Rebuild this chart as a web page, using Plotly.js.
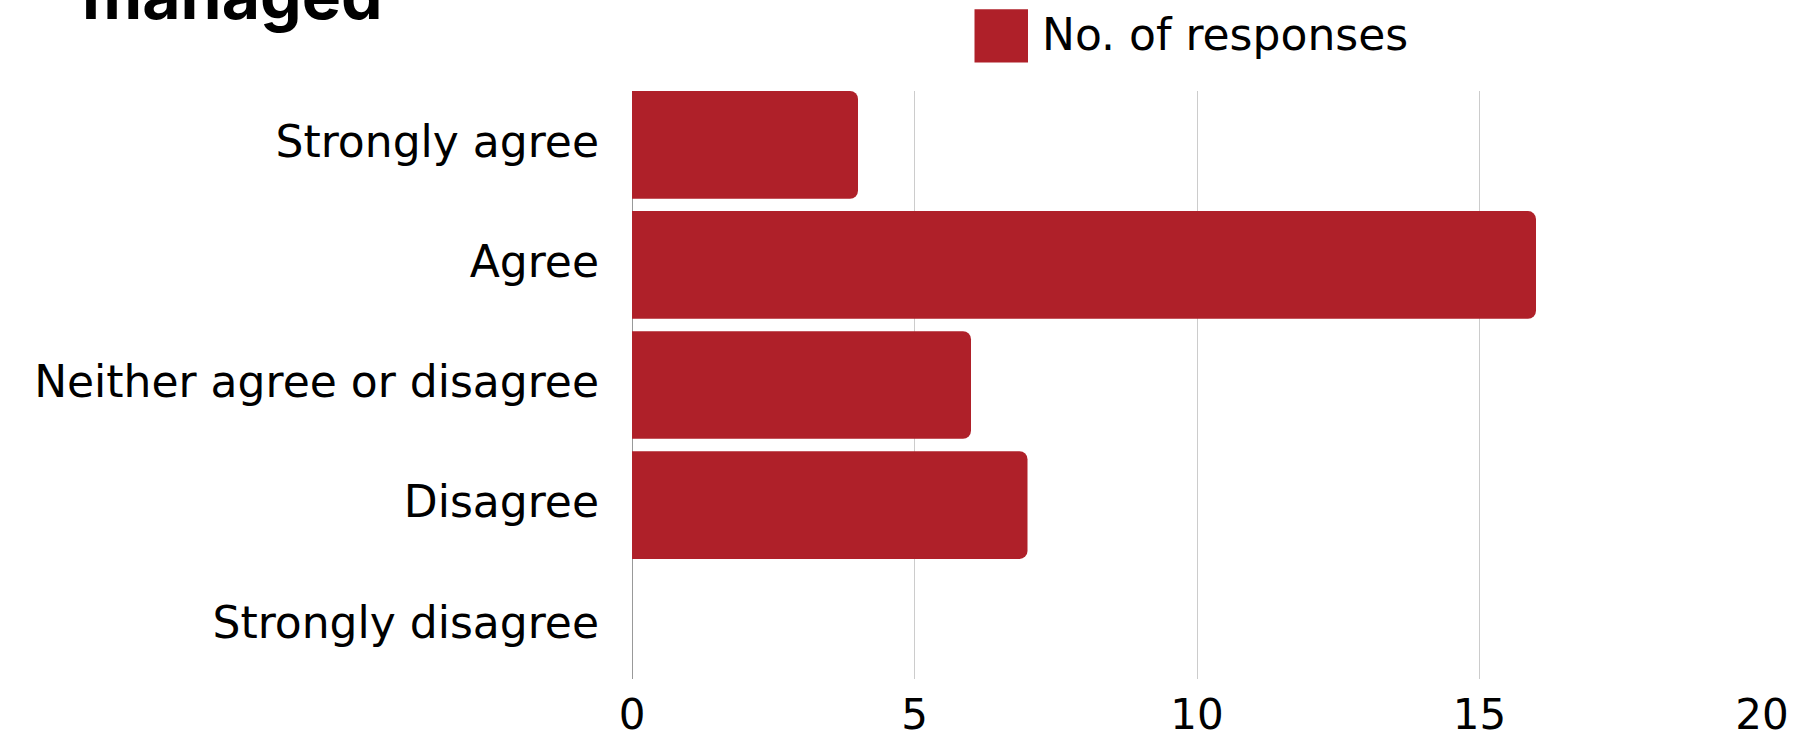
<!DOCTYPE html>
<html>
<head>
<meta charset="utf-8">
<script src="https://cdn.plot.ly/plotly-3.0.1.min.js"></script>
<style>
  html, body { margin: 0; padding: 0; background: #ffffff; }
  #chart { width: 1817px; height: 743px; }
</style>
</head>
<body>
<div id="chart"></div>
<script>
// ---- data ----
const categories = [
  "Strongly agree",
  "Agree",
  "Neither agree or disagree",
  "Disagree",
  "Strongly disagree"
];
const responses = [4, 16, 6, 7, 0];
const seriesName = "No. of responses";
const xTicks = [0, 5, 10, 15, 20];
const titleText = "managed";

const FONT = "'DejaVu Sans', sans-serif";
const TITLE_FONT = "Inter, 'DejaVu Sans', sans-serif";
const BAR = "#AF2029";

const trace = {
  type: "bar",
  orientation: "h",
  y: categories,
  x: responses,
  name: seriesName,
  marker: { color: BAR, cornerradius: 8 },
  hoverinfo: "x+y",
  showlegend: false
};

const layout = {
  width: 1817,
  height: 743,
  paper_bgcolor: "#ffffff",
  plot_bgcolor: "#ffffff",
  margin: { l: 632, r: 55, t: 91, b: 64, pad: 0 },
  bargap: 0.1025,
  font: { family: FONT, color: "#000000" },
  title: {
    text: titleText,
    font: { family: TITLE_FONT, size: 66, color: "#000000", weight: 700 },
    xref: "container", x: 82 / 1817, xanchor: "left",
    yref: "container", y: 1 - 19 / 743, yanchor: "bottom"
  },
  xaxis: {
    range: [0, 20],
    tickvals: xTicks,
    ticktext: xTicks.map(String),
    showgrid: true,
    gridcolor: "#cccccc",
    gridwidth: 1,
    zeroline: true,
    zerolinecolor: "#999999",
    zerolinewidth: 1,
    showline: false,
    ticks: "",
    ticklabelstandoff: 7,
    tickfont: { family: FONT, size: 42, color: "#000000" },
    fixedrange: true
  },
  yaxis: {
    type: "category",
    categoryorder: "array",
    categoryarray: categories,
    range: [4.449, -0.449],
    showgrid: false,
    zeroline: false,
    showline: false,
    ticks: "",
    ticklabelstandoff: 32,
    ticklabelshift: 3,
    tickfont: { family: FONT, size: 44, color: "#000000" },
    fixedrange: true
  },
  shapes: [
    {
      type: "rect", xref: "paper", yref: "paper",
      x0: (974.5 - 632) / 1130, x1: (1028 - 632) / 1130,
      y0: (679 - 62.6) / 588, y1: (679 - 9.3) / 588,
      fillcolor: BAR, line: { width: 0 }
    }
  ],
  annotations: [
    {
      text: seriesName, xref: "paper", yref: "paper",
      x: (1040 - 632) / 1130, xanchor: "left",
      y: (679 - 34) / 588, yanchor: "middle",
      showarrow: false,
      font: { family: FONT, size: 44, color: "#000000" }
    }
  ]
};

Plotly.newPlot("chart", [trace], layout, { displayModeBar: false, staticPlot: true });
</script>
</body>
</html>
